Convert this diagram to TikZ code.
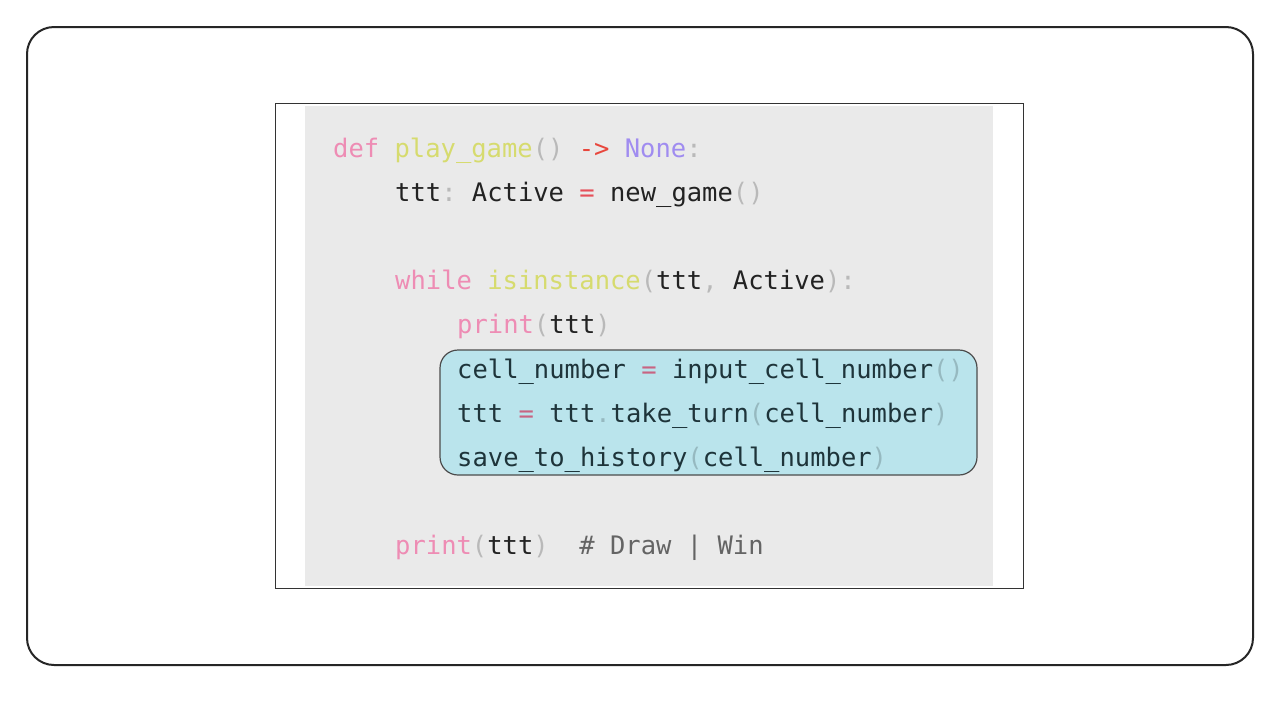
\documentclass[tikz,border=0pt]{standalone}
\usepackage{fontspec}
\setmonofont{DejaVu Sans Mono}
\definecolor{kw}{RGB}{238,140,180}
\definecolor{fn}{RGB}{214,219,110}
\definecolor{arr}{RGB}{232,70,60}
\definecolor{nonec}{RGB}{160,140,240}
\definecolor{pun}{RGB}{185,185,185}
\definecolor{txt}{RGB}{34,34,34}
\definecolor{eqc}{RGB}{230,80,90}
\definecolor{btxt}{RGB}{30,52,58}
\definecolor{beq}{RGB}{200,100,130}
\definecolor{bpun}{RGB}{150,185,192}
\definecolor{cmt}{RGB}{100,100,100}
\definecolor{codebg}{RGB}{234,234,234}
\definecolor{hlfill}{RGB}{186,228,236}
\tikzset{
  code/.style={anchor=base west, inner sep=0pt, font=\ttfamily\fontsize{25.5}{30}\selectfont, text=txt},
  frame/.style={draw=black!85, line width=2pt, rounded corners=27pt},
}
\newcommand{\K}[1]{\textcolor{kw}{#1}}
\newcommand{\F}[1]{\textcolor{fn}{#1}}
\newcommand{\PP}[1]{\textcolor{pun}{#1}}
\newcommand{\BP}[1]{\textcolor{bpun}{#1}}
\begin{document}
\begin{tikzpicture}[x=1pt,y=-1pt]
\useasboundingbox (0,0) rectangle (1280,721);
\fill[white] (0,0) rectangle (1280,721);
\draw[frame] (27,27) rectangle (1253,665);
\draw[black!80, line width=1pt, fill=white] (275.5,103.5) rectangle (1023.5,588.5);
\fill[codebg] (305,106) rectangle (993,586);
\draw[draw=black!70, line width=1.2pt, fill=hlfill, rounded corners=18pt] (440,350) rectangle (977,475);
\node[code] (l1) at (333,157) {\K{def} \F{play\_game}\PP{()} \textcolor{arr}{->} \textcolor{nonec}{None}\PP{:}};
\node[code] (l2) at (395,201) {ttt\PP{:} Active \textcolor{eqc}{=} new\_game\PP{()}};
\node[code] (l3) at (395,289) {\K{while} \F{isinstance}\PP{(}ttt\PP{,} Active\PP{):}};
\node[code] (l4) at (457,333) {\K{print}\PP{(}ttt\PP{)}};
\node[code, text=btxt] (l5) at (457,378) {cell\_number \textcolor{beq}{=} input\_cell\_number\BP{()}};
\node[code, text=btxt] (l6) at (457,422) {ttt \textcolor{beq}{=} ttt\BP{.}take\_turn\BP{(}cell\_number\BP{)}};
\node[code, text=btxt] (l7) at (457,466) {save\_to\_history\BP{(}cell\_number\BP{)}};
\node[code] (l8) at (395,554) {\K{print}\PP{(}ttt\PP{)}~~\textcolor{cmt}{\#~Draw~|~Win}};
\end{tikzpicture}
\end{document}
